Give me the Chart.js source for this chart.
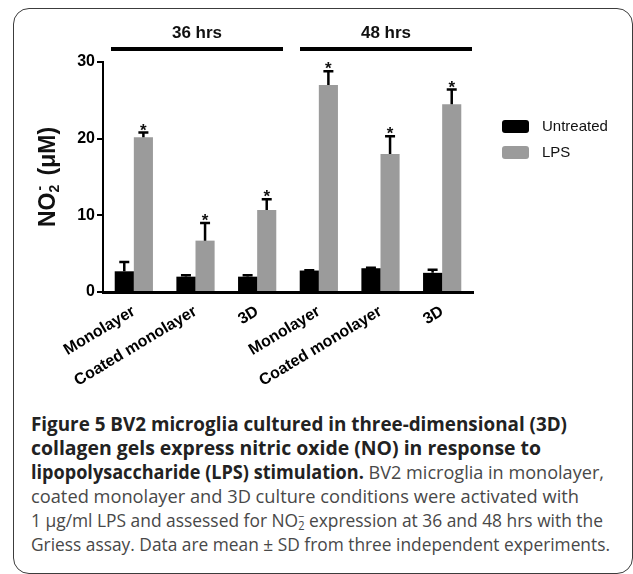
<!DOCTYPE html>
<html>
<head>
<meta charset="utf-8">
<script src="https://cdn.jsdelivr.net/npm/chart.js@4.4.1/dist/chart.umd.min.js"></script>
<style>
  html, body { margin: 0; padding: 0; background: #fff; }
  body { width: 633px; height: 574px; position: relative; overflow: hidden; }
  #frame {
    position: absolute; left: 13px; top: 8px; width: 620px; height: 566px;
    box-sizing: border-box; border: 1.5px solid #3c3c3c; border-radius: 16px;
  }
  #chart { position: absolute; left: 0; top: 0; }
  #caption { position: absolute; left: 31px; top: 412px; font-family: 'Open Sans', sans-serif; color: #484848; }
  .ln { white-space: nowrap; height: 24px; line-height: 24px; font-size: 19px; }
  .ln span.fit { display: inline-block; transform-origin: 0 50%; }
  b { color: #222; font-weight: 700; }
  .no2 { display: inline-block; position: relative; font-size: 12px; line-height: 12px; vertical-align: -3px; }
  .no2 i { position: absolute; left: 0; top: -9px; font-style: normal; }
</style>
</head>
<body>
<div id="frame"></div>
<canvas id="chart" width="633" height="400"></canvas>
<div id="caption">
  <div class="ln"><span class="fit" data-w="536"><b>Figure 5 BV2 microglia cultured in three-dimensional (3D)</b></span></div>
  <div class="ln"><span class="fit" data-w="510"><b>collagen gels express nitric oxide (NO) in response to</b></span></div>
  <div class="ln"><span class="fit" data-w="573"><b>lipopolysaccharide (LPS) stimulation.</b> BV2 microglia in monolayer,</span></div>
  <div class="ln"><span class="fit" data-w="548">coated monolayer and 3D culture conditions were activated with</span></div>
  <div class="ln"><span class="fit" data-w="572">1 μg/ml LPS and assessed for NO<span class="no2">2<i>−</i></span> expression at 36 and 48 hrs with the</span></div>
  <div class="ln"><span class="fit" data-w="579">Griess assay. Data are mean ± SD from three independent experiments.</span></div>
</div>
<script>
// data
const categories = ["Monolayer", "Coated monolayer", "3D", "Monolayer", "Coated monolayer", "3D"];
const untreated = [2.7, 2.0, 2.0, 2.8, 3.1, 2.5];
const untreatedErr = [1.2, 0.2, 0.2, 0.05, 0.05, 0.4];
const lps = [20.2, 6.7, 10.7, 27.0, 18.0, 24.5];
const lpsErr = [0.6, 2.3, 1.4, 1.8, 2.3, 1.9];
const yTicks = [0, 10, 20, 30];
const timeLabels = ["36 hrs", "48 hrs"];
const seriesNames = ["Untreated", "LPS"];
const seriesColors = ["#000000", "#9b9b9b"];

const FONT = "Arial, 'Liberation Sans', sans-serif";

// error bars, asterisks, time brackets, legend, y title
const extras = {
  id: "extras",
  afterDatasetsDraw(chart) {
    const ctx = chart.ctx;
    const x = chart.scales.x;
    const y = chart.scales.y;
    ctx.save();

    // ------------------ ERROR BARS ------------------
    chart.data.datasets.forEach((ds, di) => {
      const meta = chart.getDatasetMeta(di);
      meta.data.forEach((bar, i) => {
        const top = y.getPixelForValue(ds.data[i] + ds.err[i]);
        ctx.strokeStyle = "#000";
        ctx.lineWidth = 2.5;
        ctx.beginPath();
        ctx.moveTo(bar.x, bar.y);
        ctx.lineTo(bar.x, top);
        ctx.moveTo(bar.x - 5, top);
        ctx.lineTo(bar.x + 5, top);
        ctx.stroke();
        if (ds.star) {
          ctx.fillStyle = "#111";
          ctx.font = "bold 17px " + FONT;
          ctx.textAlign = "center";
          ctx.textBaseline = "alphabetic";
          ctx.fillText("*", bar.x, top + 3);
        }
      });
    });

    // ------------------ TIME BRACKETS ------------------
    const step = x.getPixelForValue(1) - x.getPixelForValue(0);
    timeLabels.forEach((lbl, g) => {
      const first = g * 3, last = g * 3 + 2;
      const x0 = x.getPixelForValue(first) - step / 2 + (g === 0 ? 8 : 12);
      const x1 = x.getPixelForValue(last) + step / 2 - (g === 0 ? 5 : 1);
      ctx.strokeStyle = "#000";
      ctx.lineWidth = 4;
      ctx.beginPath();
      ctx.moveTo(x0, 49);
      ctx.lineTo(x1, 49);
      ctx.stroke();
      ctx.fillStyle = "#111";
      ctx.font = "bold 17px " + FONT;
      ctx.textAlign = "center";
      ctx.textBaseline = "alphabetic";
      ctx.fillText(lbl, (x0 + x1) / 2, 38);
    });

    // ------------------ LEGEND ------------------
    seriesNames.forEach((name, i) => {
      const ly = 120 + i * 26;
      ctx.fillStyle = seriesColors[i];
      ctx.beginPath();
      ctx.roundRect(502, ly, 27, 13, 3);
      ctx.fill();
      ctx.fillStyle = "#111";
      ctx.font = "15px " + FONT;
      ctx.textAlign = "left";
      ctx.textBaseline = "middle";
      ctx.fillText(name, 542, ly + 7);
    });

    // ------------------ Y TITLE ------------------
    const big = "bold 23px " + FONT, small = "bold 14px " + FONT;
    ctx.font = big;
    const wNO = ctx.measureText("NO").width;
    const wRest = ctx.measureText(" (\u03bcM)").width;
    ctx.font = small;
    const w2 = ctx.measureText("2").width;
    const total = wNO + w2 + 3 + wRest;
    ctx.translate(49, (chart.chartArea.top + chart.chartArea.bottom) / 2);
    ctx.rotate(-Math.PI / 2);
    ctx.fillStyle = "#111";
    ctx.textAlign = "left";
    ctx.textBaseline = "middle";
    let cx = -total / 2;
    ctx.font = big;
    ctx.fillText("NO", cx, 0);
    cx += wNO;
    ctx.font = small;
    ctx.fillText("2", cx, 6);
    ctx.fillText("-", cx + 2, -9);
    cx += w2 + 3;
    ctx.font = big;
    ctx.fillText(" (\u03bcM)", cx, 0);

    ctx.restore();
  }
};

new Chart(document.getElementById("chart"), {
  type: "bar",
  data: {
    labels: categories,
    datasets: [
      { label: seriesNames[0], data: untreated, err: untreatedErr, star: false,
        backgroundColor: seriesColors[0], categoryPercentage: 0.62, barPercentage: 1 },
      { label: seriesNames[1], data: lps, err: lpsErr, star: true,
        backgroundColor: seriesColors[1], categoryPercentage: 0.62, barPercentage: 1 }
    ]
  },
  options: {
    responsive: false,
    animation: false,
    devicePixelRatio: 1,
    layout: { padding: { top: 62, right: 160, bottom: 0, left: 0 } },
    plugins: { legend: { display: false }, tooltip: { enabled: false } },
    scales: {
      x: {
        grid: { display: false },
        border: { color: "#000", width: 3 },
        ticks: { color: "#000", font: { family: FONT, weight: "bold", size: 16 },
                 maxRotation: 31, minRotation: 31, padding: 2 },
        afterFit(s) { s.height = 108; }
      },
      y: {
        min: 0, max: 30,
        afterBuildTicks(s) { s.ticks = yTicks.map(v => ({ value: v })); },
        grid: { drawOnChartArea: false, color: "#000", lineWidth: 2, tickLength: 6 },
        border: { color: "#000", width: 2 },
        ticks: { color: "#000", font: { family: FONT, weight: "bold", size: 16 }, padding: 2 },
        afterFit(s) { s.width = 103; }
      }
    }
  },
  plugins: [extras]
});

// squeeze caption lines to the widths in the figure
function fitCaption() {
  document.querySelectorAll("#caption .fit").forEach(el => {
    const w = el.getBoundingClientRect().width;
    const target = parseFloat(el.dataset.w);
    el.style.transform = "scaleX(" + (target / w) + ")";
  });
}
if (document.fonts && document.fonts.ready) document.fonts.ready.then(fitCaption);
else fitCaption();
</script>
</body>
</html>
